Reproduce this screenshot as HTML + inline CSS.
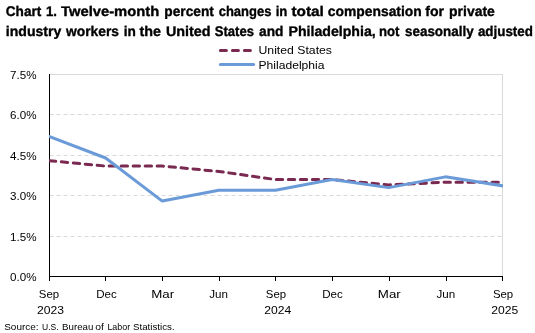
<!DOCTYPE html>
<html><head><meta charset="utf-8"><style>
html,body{margin:0;padding:0;background:#fff;}
svg{display:block;will-change:transform;}
text{font-family:"Liberation Sans",sans-serif;}
.gp text{text-rendering:geometricPrecision;}
</style></head><body>
<svg width="535" height="333" viewBox="0 0 535 333">
<defs><clipPath id="pa"><rect x="49" y="60" width="454" height="230"/></clipPath></defs>
<rect width="535" height="333" fill="#fff"/>
<g class="gp" font-weight="bold" font-size="14" fill="#000" stroke="#000" stroke-width="0.35">
<text x="5.80" y="16" textLength="35.47" lengthAdjust="spacingAndGlyphs">Chart</text>
<text x="46.00" y="16" textLength="11.04" lengthAdjust="spacingAndGlyphs">1.</text>
<text x="61.00" y="16" textLength="98.28" lengthAdjust="spacingAndGlyphs">Twelve-month</text>
<text x="164.30" y="16" textLength="49.57" lengthAdjust="spacingAndGlyphs">percent</text>
<text x="218.70" y="16" textLength="52.70" lengthAdjust="spacingAndGlyphs">changes</text>
<text x="275.70" y="16" textLength="11.72" lengthAdjust="spacingAndGlyphs">in</text>
<text x="291.40" y="16" textLength="32.48" lengthAdjust="spacingAndGlyphs">total</text>
<text x="327.80" y="16" textLength="93.95" lengthAdjust="spacingAndGlyphs">compensation</text>
<text x="425.30" y="16" textLength="18.75" lengthAdjust="spacingAndGlyphs">for</text>
<text x="449.10" y="16" textLength="45.69" lengthAdjust="spacingAndGlyphs">private</text>
<text x="5.80" y="36" textLength="55.58" lengthAdjust="spacingAndGlyphs">industry</text>
<text x="65.99" y="36" textLength="53.00" lengthAdjust="spacingAndGlyphs">workers</text>
<text x="123.70" y="36" textLength="12.14" lengthAdjust="spacingAndGlyphs">in</text>
<text x="139.40" y="36" textLength="21.48" lengthAdjust="spacingAndGlyphs">the</text>
<text x="165.90" y="36" textLength="44.67" lengthAdjust="spacingAndGlyphs">United</text>
<text x="214.80" y="36" textLength="39.20" lengthAdjust="spacingAndGlyphs">States</text>
<text x="259.10" y="36" textLength="24.34" lengthAdjust="spacingAndGlyphs">and</text>
<text x="288.50" y="36" textLength="87.20" lengthAdjust="spacingAndGlyphs">Philadelphia,</text>
<text x="378.90" y="36" textLength="20.48" lengthAdjust="spacingAndGlyphs">not</text>
<text x="405.00" y="36" textLength="68.60" lengthAdjust="spacingAndGlyphs">seasonally</text>
<text x="477.90" y="36" textLength="55.03" lengthAdjust="spacingAndGlyphs">adjusted</text>
</g>
<line x1="220.4" y1="50.5" x2="250.6" y2="50.5" stroke="#7A2A50" stroke-width="3" stroke-dasharray="6,6" stroke-linecap="round"/>
<line x1="220.4" y1="64.5" x2="253.6" y2="64.5" stroke="#6B9AD9" stroke-width="3" stroke-linecap="round"/>
<g font-size="11" fill="#000">
<text x="258.5" y="53.8" textLength="73.5" lengthAdjust="spacingAndGlyphs">United States</text>
<text x="258.5" y="68.6" textLength="66" lengthAdjust="spacingAndGlyphs">Philadelphia</text>
</g>
<line x1="49" y1="74.5" x2="503" y2="74.5" stroke="#D9D9D9" stroke-width="1"/>
<line x1="502.5" y1="74" x2="502.5" y2="276" stroke="#D9D9D9" stroke-width="1"/>
<line x1="49.5" y1="114.5" x2="502" y2="114.5" stroke="#D9D9D9" stroke-width="1" stroke-dasharray="4,3"/>
<line x1="49.5" y1="155.5" x2="502" y2="155.5" stroke="#D9D9D9" stroke-width="1" stroke-dasharray="4,3"/>
<line x1="49.5" y1="195.5" x2="502" y2="195.5" stroke="#D9D9D9" stroke-width="1" stroke-dasharray="4,3"/>
<line x1="49.5" y1="236.5" x2="502" y2="236.5" stroke="#D9D9D9" stroke-width="1" stroke-dasharray="4,3"/>

<line x1="49.5" y1="74" x2="49.5" y2="281" stroke="#000" stroke-width="1"/>
<line x1="49" y1="276.5" x2="503" y2="276.5" stroke="#000" stroke-width="1"/>
<line x1="49.5" y1="276" x2="49.5" y2="281" stroke="#000" stroke-width="1"/>
<line x1="105.5" y1="276" x2="105.5" y2="281" stroke="#000" stroke-width="1"/>
<line x1="162.5" y1="276" x2="162.5" y2="281" stroke="#000" stroke-width="1"/>
<line x1="219.5" y1="276" x2="219.5" y2="281" stroke="#000" stroke-width="1"/>
<line x1="275.5" y1="276" x2="275.5" y2="281" stroke="#000" stroke-width="1"/>
<line x1="332.5" y1="276" x2="332.5" y2="281" stroke="#000" stroke-width="1"/>
<line x1="389.5" y1="276" x2="389.5" y2="281" stroke="#000" stroke-width="1"/>
<line x1="446.5" y1="276" x2="446.5" y2="281" stroke="#000" stroke-width="1"/>
<line x1="502.5" y1="276" x2="502.5" y2="281" stroke="#000" stroke-width="1"/>

<g clip-path="url(#pa)">
<polyline points="49.00,160.69 105.62,166.07 162.25,166.07 218.88,171.46 275.50,179.54 332.12,179.54 388.75,184.93 445.38,182.23 502.00,182.23" fill="none" stroke="#7A2A50" stroke-width="3" stroke-dasharray="6.4,5.6" stroke-dashoffset="-0.4" stroke-linecap="round" stroke-linejoin="round"/>
<polyline points="49.00,136.45 105.62,157.99 162.25,201.09 218.88,190.31 275.50,190.31 332.12,179.54 388.75,187.62 445.38,176.85 502.00,185.73" fill="none" stroke="#6B9AD9" stroke-width="3" stroke-linecap="square" stroke-linejoin="round"/>
</g>
<g font-size="11" fill="#000">
<text x="36.6" y="280.90" text-anchor="end" textLength="26.5" lengthAdjust="spacingAndGlyphs">0.0%</text>
<text x="36.6" y="240.50" text-anchor="end" textLength="26.5" lengthAdjust="spacingAndGlyphs">1.5%</text>
<text x="36.6" y="200.10" text-anchor="end" textLength="26.5" lengthAdjust="spacingAndGlyphs">3.0%</text>
<text x="36.6" y="159.70" text-anchor="end" textLength="26.5" lengthAdjust="spacingAndGlyphs">4.5%</text>
<text x="36.6" y="119.30" text-anchor="end" textLength="26.5" lengthAdjust="spacingAndGlyphs">6.0%</text>
<text x="36.6" y="78.90" text-anchor="end" textLength="26.5" lengthAdjust="spacingAndGlyphs">7.5%</text>

<text x="48.95" y="297.8" text-anchor="middle" textLength="20.3" lengthAdjust="spacingAndGlyphs">Sep</text>
<text x="106.45" y="297.8" text-anchor="middle" textLength="20.6" lengthAdjust="spacingAndGlyphs">Dec</text>
<text x="162.65" y="297.8" text-anchor="middle" textLength="22.9" lengthAdjust="spacingAndGlyphs">Mar</text>
<text x="218.65" y="297.8" text-anchor="middle" textLength="18.7" lengthAdjust="spacingAndGlyphs">Jun</text>
<text x="276.00" y="297.8" text-anchor="middle" textLength="20.3" lengthAdjust="spacingAndGlyphs">Sep</text>
<text x="332.45" y="297.8" text-anchor="middle" textLength="20.6" lengthAdjust="spacingAndGlyphs">Dec</text>
<text x="389.30" y="297.8" text-anchor="middle" textLength="22.9" lengthAdjust="spacingAndGlyphs">Mar</text>
<text x="445.75" y="297.8" text-anchor="middle" textLength="18.7" lengthAdjust="spacingAndGlyphs">Jun</text>
<text x="503.05" y="297.8" text-anchor="middle" textLength="20.3" lengthAdjust="spacingAndGlyphs">Sep</text>
<text x="50.50" y="313.8" text-anchor="middle" textLength="27" lengthAdjust="spacingAndGlyphs">2023</text>
<text x="277.80" y="313.8" text-anchor="middle" textLength="27" lengthAdjust="spacingAndGlyphs">2024</text>
<text x="504.75" y="313.8" text-anchor="middle" textLength="27" lengthAdjust="spacingAndGlyphs">2025</text>

<g font-size="9.8" fill="#000">
<text x="4.20" y="329.8" textLength="34.44" lengthAdjust="spacingAndGlyphs">Source:</text>
<text x="42.00" y="329.8" textLength="16.63" lengthAdjust="spacingAndGlyphs">U.S.</text>
<text x="62.10" y="329.8" textLength="31.24" lengthAdjust="spacingAndGlyphs">Bureau</text>
<text x="95.30" y="329.8" textLength="8.61" lengthAdjust="spacingAndGlyphs">of</text>
<text x="107.40" y="329.8" textLength="22.73" lengthAdjust="spacingAndGlyphs">Labor</text>
<text x="133.00" y="329.8" textLength="41.62" lengthAdjust="spacingAndGlyphs">Statistics.</text>
</g>
</g>
</svg>
</body></html>
